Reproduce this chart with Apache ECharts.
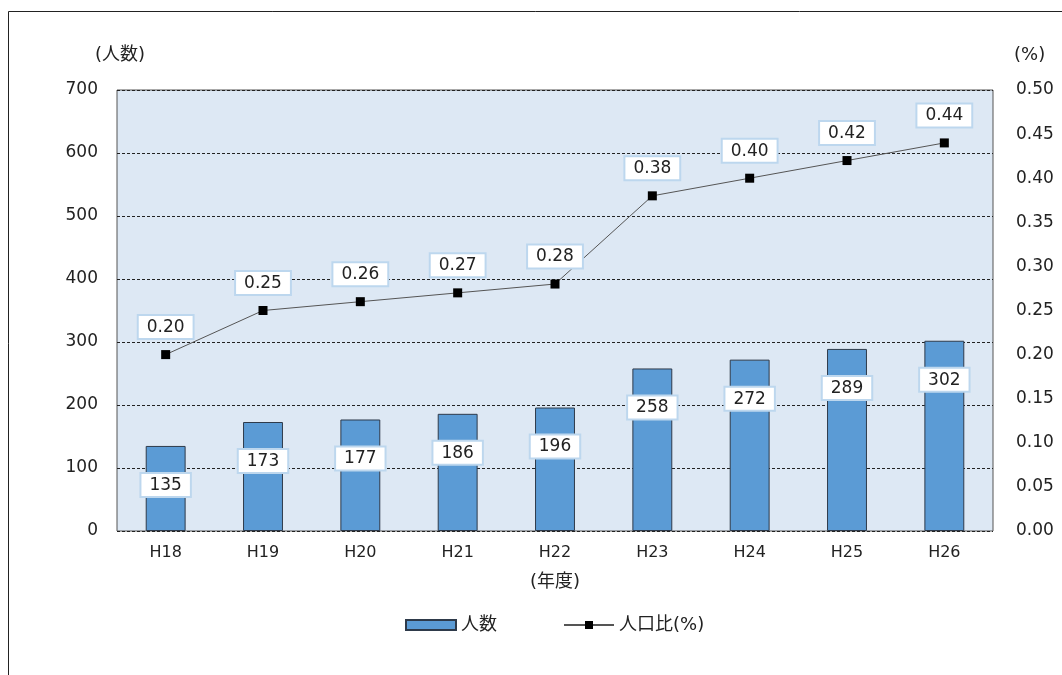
<!DOCTYPE html>
<html><head><meta charset="utf-8">
<script src="https://cdn.jsdelivr.net/npm/echarts@6/dist/echarts.min.js"></script>
<style>html,body{margin:0;padding:0;background:#fff}#c{width:1062px;height:675px}</style>
</head><body><div id="c"></div>
<script>
const categories = ['H18','H19','H20','H21','H22','H23','H24','H25','H26'];
const people = [135,173,177,186,196,258,272,289,302];
const ratio = [0.20,0.25,0.26,0.27,0.28,0.38,0.40,0.42,0.44];
const leftTicks = {min:0,max:700,interval:100};
const rightTicks = {min:0,max:0.5,interval:0.05};

const FONT = '"DejaVu Sans","Noto Sans CJK JP",sans-serif';
const chart = echarts.init(document.getElementById('c'));
const boxLabel = {
  show:true, color:'#222', fontSize:17, fontFamily:FONT,
  backgroundColor:'#fff', borderColor:'#bdd7ee', borderWidth:2,
  padding:[3,8,2,8]
};
chart.setOption({
  animation:false,
  textStyle:{fontFamily:FONT},
  graphic:[{type:'rect',silent:true,z:-10,shape:{x:8.5,y:11.5,width:1200,height:800},style:{fill:'none',stroke:'#222',lineWidth:1}}],
  grid:{left:117,right:69,top:90,bottom:144,show:true,backgroundColor:'#dde8f4',borderColor:'#555',borderWidth:1},
  legend:{bottom:36,left:400,itemGap:66,itemWidth:50,itemHeight:10,
    textStyle:{fontSize:18,color:'#222',fontFamily:FONT},
    data:[{name:'人数',icon:'rect'},{name:'人口比(%)'}]},
  xAxis:{type:'category',data:categories,name:'(年度)',nameLocation:'middle',nameGap:42,
    nameTextStyle:{fontSize:18,color:'#222'},
    axisLine:{show:false},axisTick:{show:false},
    axisLabel:{fontSize:16,color:'#222',margin:14}},
  yAxis:[
    {type:'value',min:leftTicks.min,max:leftTicks.max,interval:leftTicks.interval,
     name:'(人数)',nameLocation:'end',nameGap:26,nameTextStyle:{fontSize:18,color:'#222',align:'right',padding:[0,-28,0,0]},
     axisLabel:{fontSize:17,color:'#222',margin:19},
     splitLine:{lineStyle:{color:'#222',type:[3,2],width:1}},axisLine:{show:false},axisTick:{show:false}},
    {type:'value',min:rightTicks.min,max:rightTicks.max,interval:rightTicks.interval,
     name:'(%)',nameLocation:'end',nameGap:26,nameTextStyle:{fontSize:18,color:'#222',align:'left',padding:[0,0,0,21]},
     axisLabel:{fontSize:17,color:'#222',margin:23,formatter:v=>v.toFixed(2)},
     splitLine:{show:false},axisLine:{show:false},axisTick:{show:false}}
  ],
  series:[
    {name:'人数',type:'bar',data:people,barWidth:'41%',
     itemStyle:{color:'#5b9bd5',borderColor:'#2e3a4a',borderWidth:1},
     label:Object.assign({},boxLabel,{position:'insideTop',distance:28})},
    {name:'人口比(%)',type:'line',yAxisIndex:1,data:ratio,
     symbol:'rect',symbolSize:9,
     lineStyle:{color:'#555',width:1},itemStyle:{color:'#000'},
     label:Object.assign({},boxLabel,{position:'top',distance:12,formatter:p=>p.value.toFixed(2)}),
     labelLine:{show:false}}
  ]
});
</script></body></html>
